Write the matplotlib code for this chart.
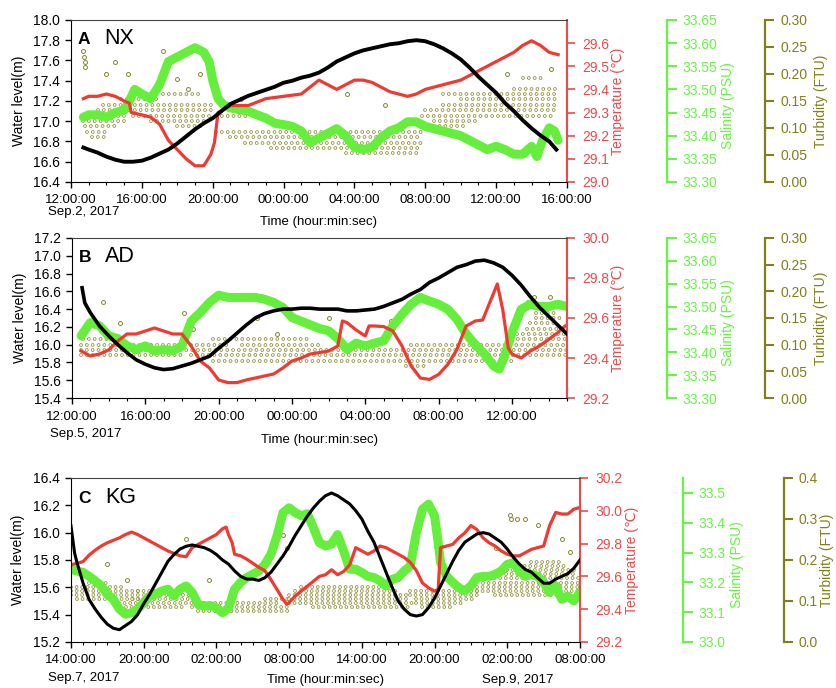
import matplotlib
matplotlib.use("Agg")
import matplotlib.pyplot as plt
from matplotlib.ticker import MultipleLocator

plt.rcParams["font.family"] = ["Liberation Sans", "DejaVu Sans"]
plt.rcParams["lines.scale_dashes"] = False

# --- colours ---
RED = "#EE3A30"
RED_AX = "#F04848"
GREEN = "#66EE3C"
GREEN_AX = "#66F542"
OLIVE = "#86862A"
OLIVE_AX = "#808018"

# ===================== Panel A (NX): hours after 12:00 Sep.2 =====================
a_water = [(0.7, 16.74), (1.0, 16.72), (1.5, 16.69), (2.0, 16.65), (2.5, 16.62), (3.0, 16.60),
           (3.5, 16.60), (4.0, 16.61), (4.5, 16.64), (5.0, 16.68), (5.5, 16.72), (6.0, 16.78),
           (6.5, 16.85), (7.0, 16.92), (7.5, 16.98), (8.0, 17.03), (8.5, 17.10), (9.0, 17.17),
           (9.5, 17.21), (10.0, 17.25), (10.5, 17.28), (11.0, 17.31), (11.5, 17.34), (12.0, 17.38),
           (12.5, 17.40), (13.0, 17.43), (13.5, 17.45), (14.0, 17.48), (14.5, 17.53), (15.0, 17.59),
           (15.5, 17.63), (16.0, 17.67), (16.5, 17.70), (17.0, 17.72), (17.5, 17.74), (18.0, 17.76),
           (18.5, 17.77), (19.0, 17.79), (19.5, 17.80), (20.0, 17.79), (20.5, 17.76), (21.0, 17.72),
           (21.5, 17.67), (22.0, 17.61), (22.5, 17.53), (23.0, 17.44), (23.5, 17.36), (24.0, 17.28),
           (24.5, 17.18), (25.0, 17.10), (25.5, 17.01), (26.0, 16.93), (26.5, 16.86), (27.0, 16.80),
           (27.4, 16.72)]
a_temp = [(0.7, 29.36), (1.0, 29.37), (1.5, 29.37), (2.0, 29.38), (2.5, 29.37), (3.0, 29.35),
          (3.3, 29.34), (3.4, 29.30), (4.0, 29.29), (4.5, 29.28), (5.0, 29.25), (5.5, 29.18),
          (6.0, 29.14), (6.5, 29.10), (7.0, 29.07), (7.5, 29.07), (7.9, 29.12), (8.1, 29.17),
          (8.3, 29.30), (9.0, 29.33), (10.0, 29.33), (11.0, 29.36), (12.0, 29.37), (13.0, 29.38),
          (14.0, 29.44), (14.5, 29.42), (15.0, 29.40), (15.5, 29.42), (16.0, 29.44), (16.5, 29.44),
          (17.0, 29.43), (17.5, 29.41), (18.0, 29.39), (18.5, 29.38), (19.0, 29.37), (19.5, 29.38),
          (20.0, 29.40), (21.0, 29.42), (22.0, 29.44), (23.0, 29.48), (24.0, 29.52), (25.0, 29.56),
          (25.5, 29.59), (26.0, 29.61), (26.5, 29.59), (27.0, 29.56), (27.5, 29.55)]
a_sal = [(0.7, 33.440), (1.0, 33.445), (1.5, 33.445), (2.0, 33.440), (2.5, 33.450), (3.0, 33.455),
         (3.3, 33.475), (3.6, 33.500), (4.0, 33.490), (4.5, 33.480), (5.0, 33.510), (5.5, 33.560),
         (6.0, 33.570), (6.5, 33.580), (7.0, 33.590), (7.5, 33.580), (7.8, 33.560), (8.0, 33.520),
         (8.3, 33.480), (8.6, 33.467), (9.0, 33.460), (9.5, 33.456), (10.0, 33.453), (10.5, 33.445),
         (11.0, 33.438), (11.5, 33.427), (12.0, 33.424), (12.5, 33.420), (13.0, 33.410), (13.5, 33.385),
         (14.0, 33.395), (14.5, 33.405), (15.0, 33.415), (15.5, 33.400), (16.0, 33.375), (16.5, 33.370),
         (17.0, 33.375), (17.5, 33.395), (18.0, 33.410), (18.5, 33.417), (19.0, 33.430), (19.5, 33.430),
         (20.0, 33.420), (21.0, 33.410), (22.0, 33.400), (22.5, 33.390), (23.0, 33.380), (23.5, 33.370),
         (24.0, 33.377), (24.5, 33.370), (25.0, 33.360), (25.5, 33.360), (26.0, 33.377), (26.3, 33.355),
         (26.6, 33.388), (27.0, 33.417), (27.3, 33.410), (27.5, 33.390)]
# turbidity: runs of readings at one level (start h, end h, FTU) plus isolated readings
a_turb_runs = [(0.7, 3.2, 0.123), (0.7, 3.0, 0.113), (0.8, 2.6, 0.103), (0.9, 2.2, 0.093),
               (1.2, 2.0, 0.083), (1.5, 3.2, 0.133), (1.8, 3.0, 0.143), (2.8, 5.0, 0.153),
               (3.3, 8.0, 0.143), (3.3, 8.0, 0.133), (3.5, 8.0, 0.123), (4.5, 7.8, 0.113),
               (5.2, 7.2, 0.163), (6.0, 7.6, 0.103), (8.2, 10.0, 0.123), (8.2, 19.8, 0.093),
               (9.0, 19.8, 0.083), (9.8, 19.8, 0.073), (11.3, 19.8, 0.063), (15.5, 19.8, 0.053),
               (19.8, 22.2, 0.103), (20.5, 23.0, 0.113), (19.8, 27.2, 0.123), (20.0, 27.5, 0.133),
               (21.0, 27.5, 0.143), (22.0, 27.5, 0.153), (21.0, 27.5, 0.163), (25.0, 27.5, 0.173),
               (25.5, 26.8, 0.193)]
a_turb_pts = [(0.7, 0.243), (0.75, 0.232), (0.8, 0.222), (0.8, 0.212), (2.0, 0.20), (2.5, 0.222),
              (3.2, 0.20), (5.2, 0.243), (6.0, 0.19), (6.6, 0.172), (7.3, 0.20), (9.6, 0.153),
              (15.6, 0.163), (17.7, 0.143), (24.6, 0.20), (27.1, 0.21)]
a_xticks = [0, 4, 8, 12, 16, 20, 24, 28]
a_xlabels = ["12:00:00", "16:00:00", "20:00:00", "00:00:00", "04:00:00", "08:00:00", "12:00:00", "16:00:00"]
a_wl_ticks = [16.4, 16.6, 16.8, 17.0, 17.2, 17.4, 17.6, 17.8, 18.0]
a_t_ticks = [29.0, 29.1, 29.2, 29.3, 29.4, 29.5, 29.6]
a_s_ticks = [33.30, 33.35, 33.40, 33.45, 33.50, 33.55, 33.60, 33.65]
a_tb_ticks = [0.00, 0.05, 0.10, 0.15, 0.20, 0.25, 0.30]

# ===================== Panel B (AD): hours after 12:00 Sep.5 =====================
b_water = [(0.55, 16.64), (0.7, 16.47), (1.0, 16.36), (1.5, 16.21), (2.0, 16.10), (2.5, 16.00),
           (3.0, 15.91), (3.5, 15.83), (4.0, 15.78), (4.5, 15.74), (5.0, 15.72), (5.5, 15.73),
           (6.0, 15.76), (6.5, 15.79), (7.0, 15.83), (7.5, 15.87), (8.0, 15.96), (8.5, 16.04),
           (9.0, 16.13), (9.5, 16.22), (10.0, 16.30), (10.5, 16.35), (11.0, 16.38), (11.5, 16.40),
           (12.0, 16.40), (12.5, 16.41), (13.0, 16.41), (13.5, 16.40), (14.0, 16.40), (14.5, 16.40),
           (15.0, 16.38), (15.5, 16.38), (16.0, 16.39), (16.5, 16.40), (17.0, 16.43), (17.5, 16.47),
           (18.0, 16.51), (18.5, 16.57), (19.0, 16.62), (19.5, 16.70), (20.0, 16.75), (20.5, 16.81),
           (21.0, 16.87), (21.5, 16.90), (22.0, 16.94), (22.5, 16.95), (23.0, 16.92), (23.5, 16.87),
           (24.0, 16.78), (24.5, 16.67), (25.0, 16.54), (25.5, 16.42), (26.0, 16.32), (26.5, 16.22),
           (27.0, 16.12)]
b_temp = [(0.5, 29.435), (1.0, 29.41), (1.5, 29.42), (2.0, 29.44), (2.5, 29.485), (3.0, 29.52),
          (3.5, 29.52), (4.0, 29.535), (4.5, 29.55), (5.0, 29.535), (5.5, 29.52), (6.0, 29.52),
          (6.5, 29.46), (7.0, 29.385), (7.5, 29.35), (8.0, 29.29), (8.5, 29.277), (9.0, 29.277),
          (9.5, 29.29), (10.0, 29.30), (10.5, 29.31), (11.0, 29.32), (11.5, 29.35), (12.0, 29.385),
          (12.5, 29.40), (13.0, 29.42), (13.5, 29.427), (14.0, 29.435), (14.5, 29.46), (14.75, 29.585),
          (15.0, 29.577), (15.5, 29.54), (16.0, 29.51), (16.2, 29.56), (16.5, 29.56), (17.0, 29.557),
          (17.5, 29.535), (18.0, 29.46), (18.5, 29.36), (19.0, 29.30), (19.5, 29.293), (20.0, 29.318),
          (20.5, 29.368), (21.0, 29.443), (21.5, 29.56), (22.0, 29.585), (22.4, 29.59), (22.8, 29.68),
          (23.2, 29.77), (23.5, 29.64), (23.8, 29.45), (24.0, 29.42), (24.5, 29.40), (25.0, 29.435),
          (25.5, 29.46), (26.0, 29.493), (26.5, 29.527), (26.9, 29.56)]
b_sal = [(0.5, 33.436), (1.0, 33.465), (1.5, 33.458), (2.0, 33.436), (2.5, 33.430), (3.0, 33.414),
         (3.5, 33.406), (4.0, 33.414), (4.5, 33.403), (5.0, 33.406), (5.5, 33.403), (6.0, 33.414),
         (6.5, 33.468), (7.0, 33.487), (7.5, 33.509), (8.0, 33.525), (8.5, 33.520), (9.0, 33.520),
         (9.5, 33.520), (10.0, 33.520), (10.5, 33.516), (11.0, 33.509), (11.5, 33.498), (12.0, 33.476),
         (12.5, 33.468), (13.0, 33.460), (13.5, 33.452), (14.0, 33.447), (14.5, 33.430), (15.0, 33.406),
         (15.5, 33.420), (16.0, 33.414), (16.5, 33.420), (17.0, 33.425), (17.5, 33.458), (18.0, 33.483),
         (18.5, 33.505), (19.0, 33.520), (19.5, 33.512), (20.0, 33.505), (20.5, 33.494), (21.0, 33.472),
         (21.5, 33.440), (22.0, 33.417), (22.5, 33.396), (23.0, 33.370), (23.3, 33.363), (23.6, 33.392),
         (24.0, 33.443), (24.5, 33.494), (25.0, 33.505), (25.5, 33.500), (26.0, 33.500), (26.5, 33.505),
         (27.0, 33.500)]
b_turb_runs = [(0.5, 6.0, 0.10), (6.5, 8.5, 0.10), (9.3, 13.5, 0.10), (18.5, 27.0, 0.10),
               (0.5, 27.0, 0.09), (0.5, 6.0, 0.08), (6.5, 27.0, 0.08), (7.7, 24.0, 0.07),
               (0.6, 2.6, 0.11), (7.7, 13.0, 0.11), (24.0, 27.0, 0.11), (18.2, 19.2, 0.06),
               (24.3, 27.0, 0.12), (24.8, 27.0, 0.13), (25.0, 26.5, 0.14), (25.3, 26.7, 0.15),
               (25.3, 26.5, 0.16)]
b_turb_pts = [(1.67, 0.18), (2.6, 0.14), (6.1, 0.16), (6.6, 0.13), (10.1, 0.15), (11.2, 0.12),
              (14.0, 0.15), (17.4, 0.145), (24.9, 0.18), (25.2, 0.19), (26.1, 0.19)]
b_xticks = [0, 4, 8, 12, 16, 20, 24]
b_xlabels = ["12:00:00", "16:00:00", "20:00:00", "00:00:00", "04:00:00", "08:00:00", "12:00:00"]
b_wl_ticks = [15.4, 15.6, 15.8, 16.0, 16.2, 16.4, 16.6, 16.8, 17.0, 17.2]
b_t_ticks = [29.2, 29.4, 29.6, 29.8, 30.0]
b_s_ticks = [33.30, 33.35, 33.40, 33.45, 33.50, 33.55, 33.60, 33.65]
b_tb_ticks = [0.00, 0.05, 0.10, 0.15, 0.20, 0.25, 0.30]

# ===================== Panel C (KG): hours after 14:00 Sep.7 =====================
c_water = [(0.0, 16.05), (0.3, 15.85), (0.5, 15.78), (1.0, 15.63), (1.5, 15.51), (2.0, 15.44),
           (2.5, 15.38), (3.0, 15.33), (3.5, 15.30), (4.0, 15.29), (4.5, 15.32), (5.0, 15.35),
           (5.5, 15.40), (6.0, 15.48), (6.5, 15.55), (7.0, 15.63), (7.5, 15.71), (8.0, 15.79),
           (8.5, 15.84), (9.0, 15.88), (9.5, 15.90), (10.0, 15.91), (10.5, 15.90), (11.0, 15.89),
           (11.5, 15.87), (12.0, 15.84), (12.5, 15.80), (13.0, 15.77), (13.5, 15.72), (14.0, 15.68),
           (14.5, 15.66), (15.0, 15.66), (15.5, 15.65), (16.0, 15.67), (16.5, 15.71), (17.0, 15.77),
           (17.5, 15.83), (18.0, 15.90), (18.5, 15.98), (19.0, 16.05), (19.5, 16.12), (20.0, 16.18),
           (20.5, 16.23), (21.0, 16.27), (21.5, 16.29), (22.0, 16.27), (22.5, 16.24), (23.0, 16.21),
           (23.5, 16.16), (24.0, 16.10), (24.5, 16.01), (25.0, 15.93), (25.5, 15.82), (26.0, 15.71),
           (26.5, 15.60), (27.0, 15.50), (27.5, 15.44), (28.0, 15.40), (28.5, 15.39), (29.0, 15.40),
           (29.5, 15.45), (30.0, 15.52), (30.5, 15.61), (31.0, 15.70), (31.5, 15.79), (32.0, 15.87),
           (32.5, 15.93), (33.0, 15.96), (33.5, 15.99), (34.0, 16.00), (34.5, 15.99), (35.0, 15.96),
           (35.5, 15.93), (36.0, 15.88), (36.5, 15.82), (37.0, 15.77), (37.5, 15.73), (38.0, 15.71),
           (38.5, 15.67), (39.0, 15.63), (39.5, 15.63), (40.0, 15.66), (40.5, 15.68), (41.0, 15.70),
           (41.5, 15.74), (42.0, 15.80)]
c_temp = [(0.0, 29.67), (0.5, 29.68), (1.0, 29.69), (1.5, 29.73), (2.0, 29.76), (2.5, 29.785),
          (3.0, 29.805), (3.5, 29.82), (4.0, 29.835), (4.5, 29.855), (5.0, 29.87), (5.5, 29.855),
          (6.0, 29.835), (6.5, 29.815), (7.0, 29.795), (7.5, 29.775), (8.0, 29.755), (8.5, 29.74),
          (9.0, 29.725), (9.5, 29.72), (10.0, 29.775), (10.5, 29.795), (11.0, 29.815), (11.5, 29.835),
          (12.0, 29.855), (12.5, 29.89), (12.8, 29.90), (13.0, 29.855), (13.3, 29.805), (13.5, 29.735),
          (14.0, 29.725), (14.5, 29.705), (15.0, 29.68), (15.5, 29.655), (16.0, 29.635), (16.5, 29.58),
          (17.0, 29.52), (17.5, 29.46), (17.8, 29.43), (18.0, 29.44), (18.5, 29.48), (19.0, 29.51),
          (19.5, 29.54), (20.0, 29.57), (20.5, 29.60), (21.0, 29.61), (21.5, 29.64), (22.0, 29.61),
          (22.5, 29.63), (23.0, 29.67), (23.5, 29.775), (24.0, 29.755), (24.5, 29.735), (25.0, 29.755),
          (25.5, 29.785), (26.0, 29.775), (26.5, 29.755), (27.0, 29.735), (27.5, 29.715), (28.0, 29.685),
          (28.5, 29.635), (29.0, 29.56), (29.5, 29.53), (30.0, 29.51), (30.3, 29.52), (30.5, 29.775),
          (31.0, 29.785), (31.5, 29.795), (32.0, 29.835), (32.5, 29.865), (33.0, 29.91), (33.5, 29.885),
          (34.0, 29.835), (34.5, 29.805), (35.0, 29.785), (35.5, 29.755), (36.0, 29.735), (36.5, 29.725),
          (37.0, 29.725), (37.5, 29.745), (38.0, 29.765), (38.5, 29.775), (39.0, 29.785), (39.5, 29.91),
          (40.0, 29.99), (40.5, 29.98), (41.0, 29.98), (41.5, 30.01), (42.0, 30.02)]
c_sal = [(0.0, 33.244), (0.5, 33.238), (1.0, 33.233), (1.5, 33.220), (2.0, 33.205), (2.5, 33.188),
         (3.0, 33.160), (3.5, 33.143), (4.0, 33.110), (4.5, 33.093), (5.0, 33.098), (5.5, 33.110),
         (6.0, 33.132), (6.5, 33.154), (7.0, 33.160), (7.5, 33.171), (8.0, 33.177), (8.5, 33.154),
         (9.0, 33.177), (9.5, 33.188), (10.0, 33.166), (10.5, 33.126), (11.0, 33.120), (11.5, 33.122),
         (12.0, 33.115), (12.5, 33.098), (13.0, 33.113), (13.5, 33.177), (14.0, 33.200), (14.5, 33.216),
         (15.0, 33.227), (15.5, 33.238), (16.0, 33.260), (16.5, 33.294), (17.0, 33.356), (17.5, 33.434),
         (18.0, 33.450), (18.5, 33.434), (19.0, 33.423), (19.5, 33.430), (20.0, 33.384), (20.5, 33.333),
         (21.0, 33.322), (21.5, 33.328), (22.0, 33.360), (22.5, 33.305), (23.0, 33.244), (23.5, 33.244),
         (24.0, 33.233), (24.5, 33.220), (25.0, 33.216), (25.5, 33.205), (26.0, 33.188), (26.5, 33.210),
         (27.0, 33.216), (27.5, 33.238), (28.0, 33.255), (28.5, 33.367), (29.0, 33.445), (29.5, 33.462),
         (30.0, 33.423), (30.3, 33.333), (30.5, 33.266), (31.0, 33.220), (31.5, 33.200), (32.0, 33.182),
         (32.5, 33.171), (33.0, 33.188), (33.5, 33.216), (34.0, 33.220), (34.5, 33.220), (35.0, 33.227),
         (35.5, 33.238), (36.0, 33.260), (36.5, 33.266), (37.0, 33.238), (37.5, 33.220), (38.0, 33.227),
         (38.5, 33.220), (39.0, 33.200), (39.5, 33.166), (40.0, 33.188), (40.5, 33.143), (41.0, 33.154),
         (41.5, 33.138), (42.0, 33.166)]
c_turb_runs = [(0.0, 4.5, 0.135), (0.0, 5.5, 0.125), (0.0, 5.5, 0.115), (0.5, 6.0, 0.105),
               (1.5, 3.0, 0.145), (4.0, 10.5, 0.095), (5.0, 10.5, 0.105), (6.0, 10.0, 0.115),
               (5.5, 9.0, 0.125), (4.5, 9.5, 0.085), (10.0, 18.0, 0.085), (10.5, 18.0, 0.075),
               (11.0, 17.0, 0.095), (16.0, 18.0, 0.105), (18.0, 28.0, 0.105), (18.0, 28.0, 0.115),
               (18.5, 27.0, 0.125), (19.0, 26.0, 0.135), (18.0, 28.5, 0.095), (20.0, 28.0, 0.085),
               (28.0, 33.5, 0.125), (28.0, 33.5, 0.115), (28.5, 33.5, 0.105), (28.5, 32.5, 0.095),
               (29.0, 31.5, 0.085), (33.5, 42.0, 0.125), (33.5, 42.0, 0.135), (34.0, 42.0, 0.145),
               (34.5, 42.0, 0.155), (35.0, 41.5, 0.165), (36.0, 41.5, 0.175), (37.0, 41.0, 0.185),
               (38.0, 40.5, 0.195), (35.0, 41.0, 0.115)]
c_turb_pts = [(3.0, 0.19), (4.6, 0.15), (9.5, 0.25), (11.4, 0.15), (17.5, 0.26), (17.8, 0.23),
              (35.1, 0.23), (36.3, 0.30), (36.8, 0.30), (37.5, 0.30), (36.2, 0.31), (38.5, 0.285),
              (40.5, 0.25), (41.2, 0.22)]
c_xticks = [0, 6, 12, 18, 24, 30, 36, 42]
c_xlabels = ["14:00:00", "20:00:00", "02:00:00", "08:00:00", "14:00:00", "20:00:00", "02:00:00", "08:00:00"]
c_wl_ticks = [15.2, 15.4, 15.6, 15.8, 16.0, 16.2, 16.4]
c_t_ticks = [29.2, 29.4, 29.6, 29.8, 30.0, 30.2]
c_s_ticks = [33.0, 33.1, 33.2, 33.3, 33.4, 33.5]
c_tb_ticks = [0.0, 0.1, 0.2, 0.3, 0.4]


fig = plt.figure(figsize=(8.37, 6.88), dpi=100)


def draw_panel(rect, xmax, xticks, xlabels, water, temp, sal, turb_runs, turb_pts,
               wl_ticks, t_ticks, t_lim, s_ticks, s_lim, s_fmt, tb_ticks, tb_fmt,
               label_x, letter, site, xlabel_y, lw_black, dot_gap):
    ax = fig.add_axes(rect)
    ax_tb = ax.twinx()
    ax_s = ax.twinx()
    ax_t = ax.twinx()
    ax_tb.set_zorder(1)
    ax_s.set_zorder(2)
    ax_t.set_zorder(3)
    ax.set_zorder(4)
    ax.patch.set_visible(False)
    ax_tb.patch.set_visible(True)
    ax_tb.patch.set_facecolor("white")

    # turbidity: open circles, drawn as round dots with white centres
    for t0, t1, lv in turb_runs:
        ax_tb.plot([t0, t1], [lv, lv], color=OLIVE, lw=2.7, dashes=(0.01, dot_gap),
                   dash_capstyle="round", alpha=0.9)
        ax_tb.plot([t0, t1], [lv, lv], color="white", lw=1.5, dashes=(0.01, dot_gap),
                   dash_capstyle="round")
    pt_t, pt_v = zip(*turb_pts)
    ax_tb.scatter(pt_t, pt_v, s=8, facecolors="white", edgecolors=OLIVE, linewidths=0.7)

    st, sv = zip(*sal)
    ax_s.plot(st, sv, color=GREEN, lw=6.5, solid_joinstyle="round", solid_capstyle="round")
    tt, tv = zip(*temp)
    ax_t.plot(tt, tv, color=RED, lw=2.3)
    wt, wv = zip(*water)
    ax.plot(wt, wv, color="black", lw=lw_black)

    # x axis
    ax.set_xlim(0, xmax)
    ax.set_xticks(xticks)
    ax.set_xticklabels(xlabels)
    ax.xaxis.set_minor_locator(MultipleLocator(1))
    ax.tick_params(axis="x", which="major", direction="out", length=4, width=1, pad=5, labelsize=9.5)
    ax.tick_params(axis="x", which="minor", direction="out", length=2.5, width=0.8)

    # water level (left)
    ax.set_ylim(wl_ticks[0], wl_ticks[-1])
    ax.set_yticks(wl_ticks)
    ax.set_yticklabels([f"{v:.1f}" for v in wl_ticks])
    ax.tick_params(axis="y", direction="out", length=4.3, width=1, pad=3.5, labelsize=10)
    ax.spines["right"].set_visible(False)
    ax.spines["top"].set_color("#444444")

    # temperature
    ax_t.set_ylim(*t_lim)
    ax_t.set_yticks(t_ticks)
    ax_t.set_yticklabels([f"{v:.1f}" for v in t_ticks])
    ax_t.tick_params(axis="y", colors=RED_AX, direction="out", length=5.8, width=1.2, pad=5, labelsize=10)

    # salinity
    ax_s.set_ylim(*s_lim)
    ax_s.set_yticks(s_ticks)
    ax_s.set_yticklabels([s_fmt.format(v) for v in s_ticks])
    ax_s.tick_params(axis="y", colors=GREEN_AX, direction="out", length=7, width=1.5, pad=4.3, labelsize=10)
    ax_s.spines["right"].set_position(("axes", 1.202))

    # turbidity
    ax_tb.set_ylim(tb_ticks[0], tb_ticks[-1])
    ax_tb.set_yticks(tb_ticks)
    ax_tb.set_yticklabels([tb_fmt.format(v) for v in tb_ticks])
    ax_tb.tick_params(axis="y", colors=OLIVE_AX, direction="out", length=6.5, width=1.5, pad=4.5, labelsize=10)
    ax_tb.spines["right"].set_position(("axes", 1.40))

    for a, col, w in ((ax_t, RED_AX, 1.5), (ax_s, GREEN_AX, 1.6), (ax_tb, OLIVE_AX, 1.6)):
        for side in ("left", "top", "bottom"):
            a.spines[side].set_visible(False)
        a.spines["right"].set_color(col)
        a.spines["right"].set_linewidth(w)

    # axis titles
    ax.text(-0.105, 0.5, "Water level(m)", transform=ax.transAxes, rotation=90,
            ha="center", va="center", fontsize=10)
    ax.text(label_x[0], 0.5, "Temperature (\u2103)", transform=ax.transAxes, rotation=90,
            ha="center", va="center", fontsize=10, color=RED_AX)
    ax.text(label_x[1], 0.47, "Salinity (PSU)", transform=ax.transAxes, rotation=90,
            ha="center", va="center", fontsize=10, color=GREEN_AX)
    ax.text(label_x[2], 0.5, "Turbidity (FTU)", transform=ax.transAxes, rotation=90,
            ha="center", va="center", fontsize=10, color=OLIVE_AX)

    # panel tags
    ax.text(0.014, 0.85, letter, transform=ax.transAxes, fontsize=12.5, fontweight="bold",
            va="baseline", ha="left")
    ax.text(0.067, 0.85, site, transform=ax.transAxes, fontsize=15.5, va="baseline", ha="left")

    ax.text(0.5, xlabel_y, "Time (hour:min:sec)", transform=ax.transAxes,
            ha="center", va="center", fontsize=9.5)
    return ax


ax_a = draw_panel([0.0848, 0.7355, 0.5926, 0.2355], 28, a_xticks, a_xlabels,
                  a_water, a_temp, a_sal, a_turb_runs, a_turb_pts,
                  a_wl_ticks, a_t_ticks, (29.0, 29.7), a_s_ticks, (33.30, 33.65), "{:.2f}",
                  a_tb_ticks, "{:.2f}", (1.103, 1.325, 1.512), "A", "NX", -0.25, 2.8, 4.2)
ax_a.text(-0.046, -0.185, "Sep.2, 2017", transform=ax_a.transAxes, ha="left", va="center", fontsize=9.5)

ax_b = draw_panel([0.0860, 0.4215, 0.5914, 0.2326], 27, b_xticks, b_xlabels,
                  b_water, b_temp, b_sal, b_turb_runs, b_turb_pts,
                  b_wl_ticks, b_t_ticks, (29.2, 30.0), b_s_ticks, (33.30, 33.65), "{:.2f}",
                  b_tb_ticks, "{:.2f}", (1.103, 1.325, 1.513), "B", "AD", -0.262, 2.6, 4.2)
ax_b.text(-0.044, -0.225, "Sep.5, 2017", transform=ax_b.transAxes, ha="left", va="center", fontsize=9.5)

ax_c = draw_panel([0.0848, 0.0669, 0.6081, 0.2384], 42, c_xticks, c_xlabels,
                  c_water, c_temp, c_sal, c_turb_runs, c_turb_pts,
                  c_wl_ticks, c_t_ticks, (29.2, 30.2), c_s_ticks, (33.0, 33.55), "{:.1f}",
                  c_tb_ticks, "{:.1f}", (1.102, 1.308, 1.485), "C", "KG", -0.232, 2.2, 4.0)
ax_c.text(-0.045, -0.22, "Sep.7, 2017", transform=ax_c.transAxes, ha="left", va="center", fontsize=9.5)
ax_c.text(0.878, -0.232, "Sep.9, 2017", transform=ax_c.transAxes, ha="center", va="center", fontsize=9.5)

fig.savefig("out.png", dpi=100, facecolor="white")
